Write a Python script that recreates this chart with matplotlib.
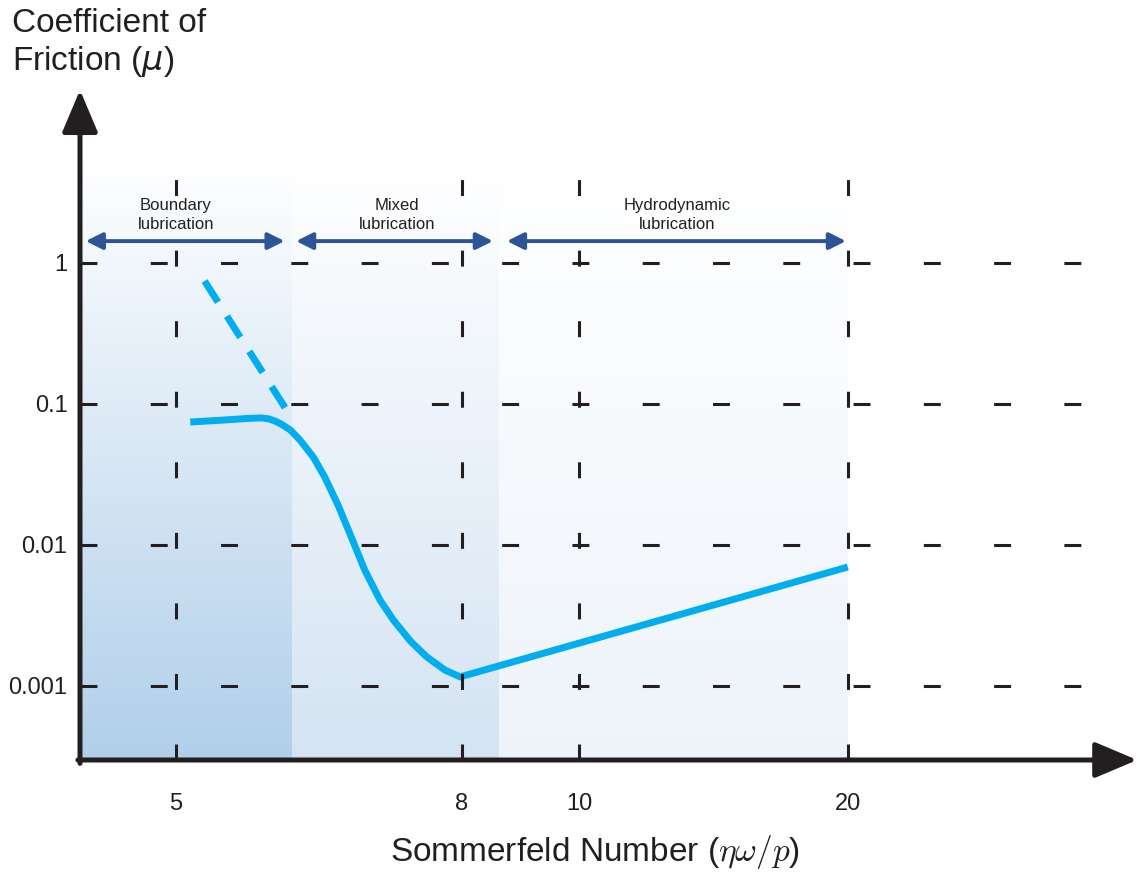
#!/usr/bin/env python
# coding: utf-8
import matplotlib
matplotlib.use("Agg")
import matplotlib.pyplot as plt
import numpy as np

plt.rcParams['font.family'] = ['Liberation Sans', 'DejaVu Sans']
plt.rcParams['lines.scale_dashes'] = False

# schematic axis: tick values and where they sit along the axis
x_ticks = [5, 8, 10, 20]
x_anchor = [4, 5, 8, 10, 20, 31]
x_pos = [80, 176, 462, 579, 848, 1144]
y_ticks = [1, 0.1, 0.01, 0.001]
y_labels = ["1", "0.1", "0.01", "0.001"]

# Stribeck curve
curve_x = [5.15, 5.51, 5.78, 5.90, 5.97, 6.04, 6.11, 6.20, 6.30, 6.44, 6.56,
           6.70, 6.83, 6.98, 7.14, 7.28, 7.46, 7.63, 7.82, 7.98, 20.0]
curve_y = [0.0745, 0.077, 0.0792, 0.0796, 0.0785, 0.0757, 0.0716, 0.0654,
           0.0556, 0.0421, 0.0304, 0.0192, 0.0118, 0.00665, 0.00407, 0.00294,
           0.00208, 0.00161, 0.0013, 0.00116, 0.00698]
dash_x = [5.30, 6.16]
dash_y = [0.745, 0.0906]

# lubrication regimes
regimes = ["Boundary\nlubrication", "Mixed\nlubrication", "Hydrodynamic\nlubrication"]
regime_x0 = [4.0, 6.22, 8.63]
regime_x1 = [6.22, 8.63, 20.0]
regime_arrow = [(4.06, 6.14), (6.26, 8.53), (8.77, 19.93)]
regime_label_x = [5.0, 7.32, 13.64]
regime_color = [(0.69, 0.81, 0.915), (0.83, 0.89, 0.95), (0.93, 0.953, 0.98)]

ink = '#231f20'


def fwd(x):
    return np.interp(x, x_anchor, x_pos)


def inv(p):
    return np.interp(p, x_pos, x_anchor)


def degrade(ax, x0, x1, top, bottom, couleur, n=120):
    # vertical gradient, white on top
    bords = np.logspace(np.log10(bottom), np.log10(top), n + 1)
    for k in range(n):
        f = (k + 0.5) / n
        c = [1 - (1 - f) * (1 - v) for v in couleur]
        ax.fill_between([x0, x1], bords[k], bords[k + 1], color=c, lw=0,
                        antialiased=False, zorder=0)


fig = plt.figure(figsize=(11.41, 8.74), dpi=100)
ax = fig.add_axes([80 / 1141, 114 / 874, 1053 / 1141, 670 / 874])
ax.set_xscale('function', functions=(fwd, inv))
ax.set_yscale('log')
ax.set_xlim(4, 30.6)
ax.set_ylim(10 ** -3.525, 10 ** 1.227)
for s in ax.spines.values():
    s.set_visible(False)

# shaded regimes
for i in range(3):
    degrade(ax, regime_x0[i], regime_x1[i], 5.8, 10 ** -3.525, regime_color[i])

# curve
ax.plot(curve_x, curve_y, color='#00aeef', lw=5, solid_joinstyle='round',
        solid_capstyle='butt', zorder=2)
ax.plot(dash_x, dash_y, color='#00aeef', lw=5, dashes=(18, 12), zorder=2)

# dashed grid
for yv in y_ticks:
    ax.axhline(yv, xmin=0, xmax=0.952, color=ink, lw=2.2, dashes=(12.2, 38.4), zorder=3)
for xv in x_ticks:
    ax.axvline(xv, ymin=0, ymax=0.867, color=ink, lw=2.2, dashes=(11.5, 39.3), zorder=3)

# regime arrows and labels
for i in range(3):
    a, b = regime_arrow[i]
    ax.annotate('', xy=(b, 1.43), xytext=(a, 1.43),
                arrowprops=dict(arrowstyle='<|-|>,head_length=0.5,head_width=0.25',
                                color='#2d5496', lw=2.8, mutation_scale=20,
                                shrinkA=0, shrinkB=0), zorder=4)
    ax.text(regime_label_x[i], 2.19, regimes[i], ha='center', va='center',
            fontsize=12, color=ink, linespacing=1.35, zorder=4)

# axes with arrow heads
fleche = dict(arrowstyle='-|>,head_length=1.3,head_width=0.55', color=ink,
              lw=3.6, mutation_scale=20, shrinkA=0, shrinkB=0)
ax.annotate('', xy=(0, 1), xytext=(0, -0.005), xycoords='axes fraction',
            arrowprops=fleche, annotation_clip=False)
ax.annotate('', xy=(1.004, 0), xytext=(-0.002, 0), xycoords='axes fraction',
            arrowprops=fleche, annotation_clip=False)

ax.set_xticks(x_ticks)
ax.set_xticklabels([str(v) for v in x_ticks])
ax.set_yticks(y_ticks)
ax.set_yticklabels(y_labels)
ax.minorticks_off()
ax.tick_params(axis='x', length=0, pad=24, labelsize=17, labelcolor=ink)
ax.tick_params(axis='y', length=0, pad=9, labelsize=17, labelcolor=ink)

fig.text(595 / 1141, 1 - 852 / 874, r"Sommerfeld Number ($\eta\omega/p$)",
         ha='center', va='center', fontsize=24, color=ink, math_fontfamily='cm')
fig.text(12 / 1141, 1 - 8 / 874, "Coefficient of\nFriction ($\\mu$)",
         ha='left', va='top', fontsize=24, color=ink, math_fontfamily='dejavusans')

fig.savefig('out.png', dpi=100, facecolor='white')
